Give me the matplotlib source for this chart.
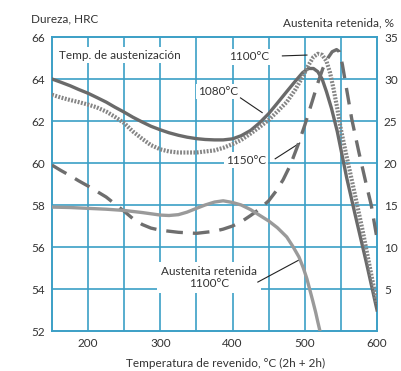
import matplotlib
matplotlib.use("Agg")
import matplotlib.pyplot as plt

plt.rcParams['font.family'] = ['Lato', 'DejaVu Sans']

# Tempering temperature (°C) and hardness (HRC) per austenitizing temperature
t_1080 = [150, 162, 175, 187, 200, 212, 225, 237, 250, 262, 275, 287, 300, 312,
          325, 337, 350, 362, 375, 387, 400, 412, 425, 437, 450, 462, 475, 487,
          497, 505, 512, 518, 524, 530, 537, 545, 558, 570, 585, 600]
hrc_1080 = [64.0, 63.85, 63.68, 63.5, 63.32, 63.12, 62.9, 62.66, 62.42, 62.18,
            61.95, 61.75, 61.58, 61.44, 61.32, 61.23, 61.16, 61.12, 61.1, 61.1,
            61.15, 61.3, 61.55, 61.9, 62.35, 62.85, 63.4, 63.9, 64.3, 64.5,
            64.5, 64.35, 64.0, 63.4, 62.6, 61.5, 59.3, 57.5, 55.3, 53.0]

t_1100 = [150, 162, 175, 187, 200, 212, 225, 237, 250, 262, 275, 287, 300, 312,
          325, 350, 375, 387, 400, 412, 425, 437, 450, 462, 475, 487, 497, 505,
          512, 518, 524, 530, 535, 540, 545, 550, 558, 565, 580, 600]
hrc_1100 = [63.25, 63.12, 63.0, 62.9, 62.78, 62.65, 62.45, 62.2, 61.9, 61.5,
            61.15, 60.85, 60.65, 60.55, 60.5, 60.5, 60.6, 60.72, 60.9, 61.1,
            61.4, 61.7, 62.05, 62.45, 62.9, 63.5, 64.1, 64.65, 65.05, 65.2,
            65.15, 64.85, 64.3, 63.5, 62.6, 61.6, 60.3, 59.2, 56.8, 53.3]

t_1150 = [150, 162, 175, 187, 200, 212, 225, 237, 250, 262, 275, 287, 300, 325,
          350, 375, 387, 400, 412, 425, 437, 450, 460, 470, 480, 490, 500, 510,
          518, 525, 532, 538, 544, 548, 552, 556, 565, 575, 585, 592, 600]
hrc_1150 = [59.9, 59.65, 59.4, 59.15, 58.9, 58.65, 58.38, 58.05, 57.7, 57.35,
            57.07, 56.9, 56.8, 56.7, 56.65, 56.75, 56.85, 57.0, 57.2, 57.5,
            57.8, 58.2, 58.65, 59.2, 59.9, 60.8, 61.8, 62.9, 63.8, 64.5, 65.0,
            65.3, 65.4, 65.3, 64.7, 63.9, 62.1, 60.5, 59.0, 58.0, 56.4]

# Retained austenite (%) after austenitizing at 1100 °C
t_ra = [150, 175, 200, 225, 250, 275, 300, 312, 325, 337, 350, 362, 375, 387,
        400, 412, 425, 437, 450, 462, 475, 484, 492, 498, 503, 507, 511, 515,
        518, 521]
ra_1100 = [14.75, 14.7, 14.6, 14.5, 14.35, 14.1, 13.8, 13.75, 13.85, 14.15,
           14.6, 15.0, 15.35, 15.5, 15.3, 15.0, 14.45, 13.8, 13.1, 12.3, 11.2,
           10.0, 8.8, 7.5, 6.2, 4.9, 3.6, 2.25, 1.1, 0.0]

x_ticks = [200, 300, 400, 500, 600]
hrc_ticks = [52, 54, 56, 58, 60, 62, 64, 66]
ra_ticks = [5, 10, 15, 20, 25, 30, 35]

GRID = '#3b9fc6'
TXT = '#333333'
FS = 8.5

fig = plt.figure(figsize=(4.01, 3.71), dpi=100)
ax = fig.add_axes([52/401, 1 - 331/371, 325/401, 294/371])
ax.set_xlim(150, 600)
ax.set_ylim(52, 66)

# grid: every 50 °C and every 2 HRC
for x in range(200, 600, 50):
    ax.axvline(x, color=GRID, lw=1.2, zorder=1)
for y in hrc_ticks[1:-1]:
    ax.axhline(y, color=GRID, lw=1.2, zorder=1)
for s in ax.spines.values():
    s.set_color(GRID)
    s.set_linewidth(1.4)

ax.set_xticks(x_ticks)
ax.set_yticks(hrc_ticks)
ax.tick_params(length=0, labelsize=FS, labelcolor=TXT, pad=5)

ax.plot(t_1080, hrc_1080, color='#6a6a6a', lw=2.4, zorder=4,
        solid_joinstyle='round')
ax.plot(t_1100, hrc_1100, color='#858585', lw=3.0, zorder=4,
        linestyle=(0, (0.45, 0.35)))
ax.plot(t_1150, hrc_1150, color='#6e6e6e', lw=2.4, zorder=4,
        linestyle=(0, (5.0, 3.0)))

ax2 = ax.twinx()
ax2.set_ylim(0, 35)
ax2.set_yticks(ra_ticks)
ax2.tick_params(length=0, labelsize=FS, labelcolor=TXT, pad=5)
for s in ax2.spines.values():
    s.set_visible(False)
ax2.plot(t_ra, ra_1100, color='#9a9a9a', lw=2.4, zorder=4,
         solid_joinstyle='round')

box = dict(facecolor='white', edgecolor='none', pad=1.5)
ax.text(160, 65.14, 'Temp. de austenización', fontsize=FS, color=TXT,
        ha='left', va='center', bbox=box, zorder=2.5)

ax.text(423, 65.05, '1100°C', fontsize=FS, color=TXT, ha='center', va='center',
        bbox=box, zorder=2.5)
ax.plot([469, 503], [65.1, 65.14], color='#222222', lw=0.8, zorder=3)

ax.text(380, 63.4, '1080°C', fontsize=FS, color=TXT, ha='center', va='center',
        bbox=box, zorder=2.5)
ax.plot([411, 441], [63.1, 62.4], color='#222222', lw=0.8, zorder=3)

ax.text(419, 60.14, '1150°C', fontsize=FS, color=TXT, ha='center', va='center',
        bbox=box, zorder=2.5)
ax.plot([459, 493], [60.2, 60.95], color='#222222', lw=0.8, zorder=3)

ax.text(367, 54.55, 'Austenita retenida\n1100°C', fontsize=FS, color=TXT,
        ha='center', va='center', linespacing=1.05,
        bbox=dict(facecolor='white', edgecolor='none', pad=3), zorder=2.5)
ax.plot([435, 493], [54.33, 55.4], color='#222222', lw=0.8, zorder=3)

fig.text(31/401, 1 - 19/371, 'Dureza, HRC', fontsize=FS, color=TXT,
         ha='left', va='center')
fig.text(394/401, 1 - 23/371, 'Austenita retenida, %', fontsize=FS, color=TXT,
         ha='right', va='center')
fig.text(226/401, 1 - 363/371, 'Temperatura de revenido, °C (2h + 2h)',
         fontsize=FS, color=TXT, ha='center', va='center')

fig.savefig('out.png', dpi=100)
